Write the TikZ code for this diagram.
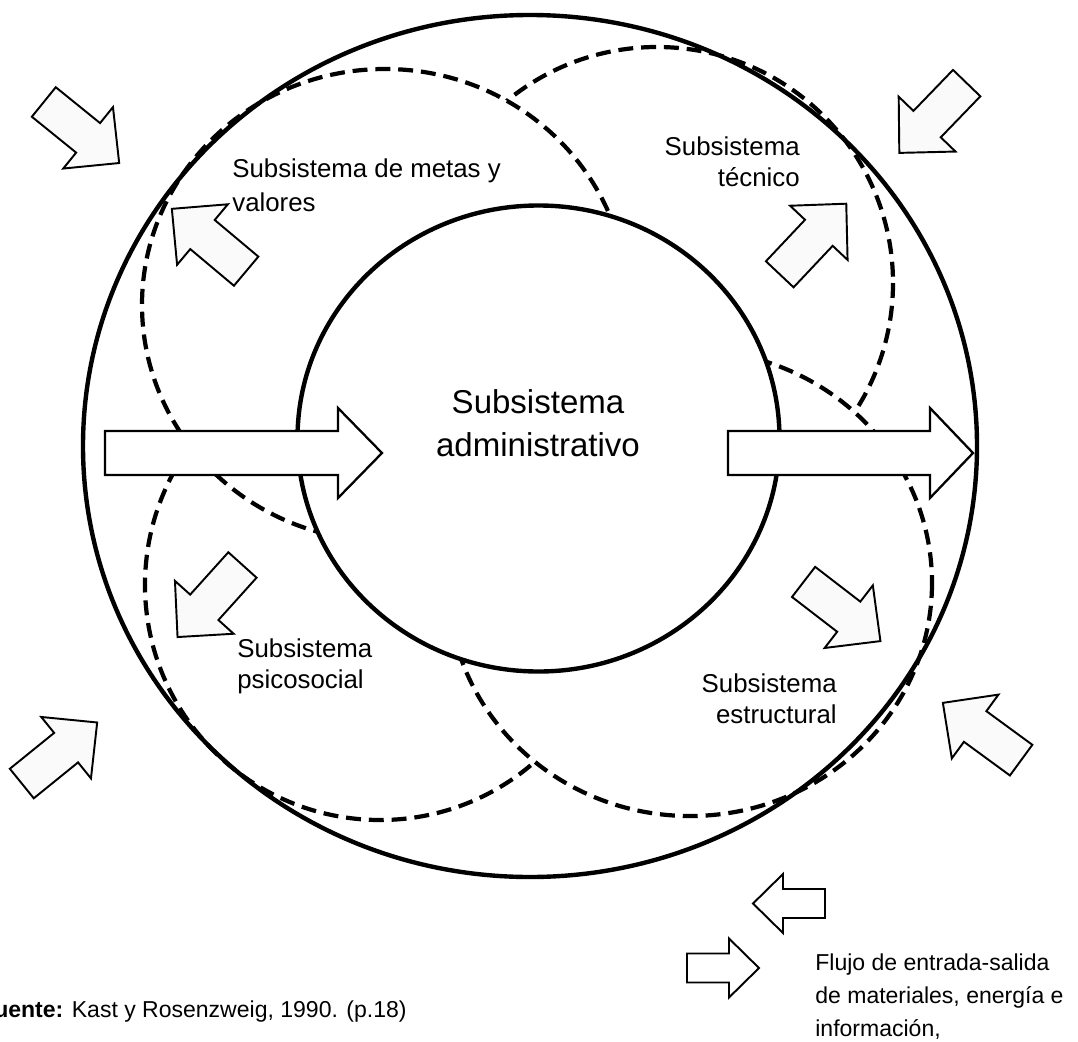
\documentclass[tikz,border=0pt]{standalone}
\usepackage{fontspec}
\setmainfont{Liberation Sans}
\usepackage{tikz}
\usetikzlibrary{calc}

\tikzset{
  pics/flecha/.style n args={4}{code={
    \draw[borde] (-#1/2,-#2/2) -- ({#1/2-#4},-#2/2) -- ({#1/2-#4},-#3/2) -- (#1/2,0) -- ({#1/2-#4},#3/2) -- ({#1/2-#4},#2/2) -- (-#1/2,#2/2) -- cycle;
  }}
}

\begin{document}
\begin{tikzpicture}[x=0.02cm,y=-0.02cm,
  circulo/.style={line width=2.5pt},
  sub/.style={draw,fill=white,line width=2.4pt,dash pattern=on 8.5pt off 4.5pt},
  borde/.style={draw=black,line width=1.1pt,fill=black!2},
  rotulo/.style={inner sep=0pt,font=\fontsize{14.7}{18}\selectfont}]
\useasboundingbox (0,0) rectangle (1078,1041);

\coordinate (psico) at (380,585);
\coordinate (tecnico) at (657,283);
\coordinate (metas) at (385,305);
\coordinate (estruc) at (690,583);
\coordinate (admin) at (538.5,438.5);
\coordinate (entorno) at (530,446);

% subsistemas, cada uno tapa al anterior
\draw[sub] (psico) circle (235);
\draw[sub] (tecnico) circle (236);
\draw[sub] (metas) ellipse [x radius=243,y radius=236];
\draw[sub] (estruc) ellipse [x radius=242,y radius=233];
\draw[circulo,fill=white] (admin) ellipse [x radius=241,y radius=233];

% flechas grandes
\pic[borde/.append style={fill=white,line width=1.3pt}] (entrada) at (243.5,453) {flecha={277}{44}{90}{44}};
\pic[borde/.append style={fill=white,line width=1.3pt}] (salida) at (850.5,453) {flecha={245}{44}{90}{43}};

% flechas chicas
\pic[rotate=-39] (fA) at (81.5,132.5) {flecha={97}{38}{79}{40}};
\pic[rotate=140] (fB) at (209,240) {flecha={97}{38}{79}{40}};
\pic[rotate=-134] (fC) at (933,118) {flecha={97}{38}{79}{40}};
\pic[rotate=46.7] (fD) at (813,239) {flecha={97}{38}{79}{40}};
\pic[rotate=228] (fE) at (210,601) {flecha={97}{38}{79}{40}};
\pic[rotate=39] (fF) at (59.5,753) {flecha={97}{38}{79}{40}};
\pic[rotate=-37.6] (fG) at (842,611.5) {flecha={97}{38}{79}{40}};
\pic[rotate=143.8] (fH) at (982,731.5) {flecha={97}{38}{79}{40}};

% leyenda
\pic[rotate=180,borde/.append style={fill=white}] (leyA) at (789,903.5) {flecha={72}{29}{59}{30}};
\pic[borde/.append style={fill=white}] (leyB) at (723,968) {flecha={72}{29}{59}{30}};

\node[rotulo,anchor=north west,align=left,font=\fontsize{14.7}{19.8}\selectfont] (tmetas) at (232,158) {Subsistema de metas y\\valores};
\node[rotulo,anchor=north east,align=right] (ttecnico) at (800,136) {Subsistema\\técnico};
\node[rotulo,anchor=north west,align=left] (tpsico) at (237,638) {Subsistema\\psicosocial};
\node[rotulo,anchor=north east,align=right] (testruc) at (837,673) {Subsistema\\estructural};
\node[rotulo,anchor=north,align=center,font=\fontsize{18.8}{24.4}\selectfont] (tadmin) at (538,389) {Subsistema\\administrativo};
\node[rotulo,anchor=north west,align=left,font=\fontsize{13.1}{18.8}\selectfont] (tflujo) at (815,953) {Flujo de entrada-salida\\de materiales, energía e\\información,};
\node[rotulo,anchor=base east,font=\fontsize{13.1}{16}\selectfont] (tfuente) at (407,1017) {\textbf{Fuente:} Kast y Rosenzweig, 1990. (p.18)};

\draw[circulo] (entorno) ellipse [x radius=447,y radius=431];
\end{tikzpicture}
\end{document}
